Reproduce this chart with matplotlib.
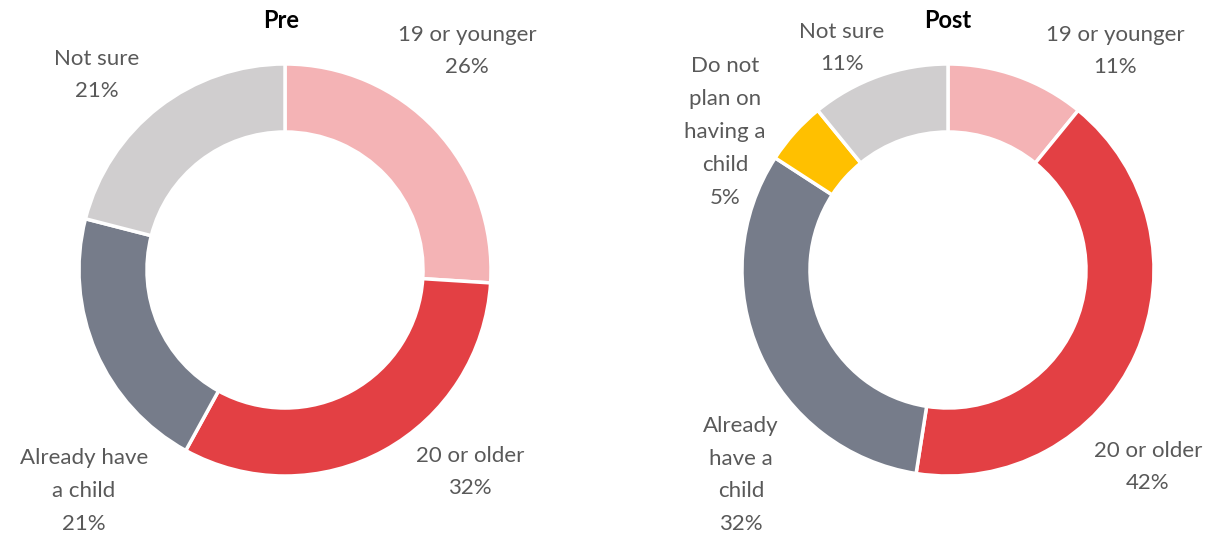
import matplotlib.pyplot as plt

# === DATOS ===
pre_labels = ["19 or younger", "20 or older", "Already have\na child", "Not sure"]
pre_values = [26, 32, 21, 21]
pre_colors = ["#F4B3B5", "#E34044", "#767C8A", "#D0CECF"]

post_labels = ["19 or younger", "20 or older", "Already\nhave a\nchild", "Do not\nplan on\nhaving a\nchild", "Not sure"]
post_values = [11, 42, 32, 5, 11]
post_colors = ["#F4B3B5", "#E34044", "#767C8A", "#FFC000", "#D0CECF"]

W, H = 1215, 540
plt.rcParams["font.family"] = ["Lato", "DejaVu Sans"]
fig = plt.figure(figsize=(W / 100, H / 100), dpi=100)

def px_axes(cx, cy, r):
    return fig.add_axes([(cx - r) / W, (H - cy - r) / H, 2 * r / W, 2 * r / H])

def donut(ax, values, colors):
    ax.pie(values, colors=colors, startangle=90, counterclock=False, radius=1,
           wedgeprops=dict(width=0.33, edgecolor="white", linewidth=2.5))
    ax.set_xlim(-1, 1)
    ax.set_ylim(-1, 1)
    ax.set_aspect("equal")
    ax.axis("off")

def label(x, y, txt, **kw):
    fig.text(x / W, 1 - y / H, txt, ha="center", va="center", fontsize=16,
             color="#595959", linespacing=1.8, **kw)

# === PRE ===
ax1 = px_axes(285, 270, 206)
donut(ax1, pre_values, pre_colors)
fig.text(281 / W, 1 - 20 / H, "Pre", ha="center", va="center", fontsize=17,
         fontweight="bold", color="black")
pre_pos = [(467, 51), (470, 472), (84, 491), (97, 75)]
for (x, y), lab, v in zip(pre_pos, pre_labels, pre_values):
    label(x, y, f"{lab}\n{v}%")

# === POST ===
ax2 = px_axes(948, 270, 206)
donut(ax2, post_values, post_colors)
fig.text(948 / W, 1 - 20 / H, "Post", ha="center", va="center", fontsize=17,
         fontweight="bold", color="black")
post_pos = [(1115, 51), (1148, 467), (741, 475), (725, 132), (842, 48)]
for (x, y), lab, v in zip(post_pos, post_labels, post_values):
    label(x, y, f"{lab}\n{v}%")

fig.savefig("out.png", dpi=100, facecolor="white")
